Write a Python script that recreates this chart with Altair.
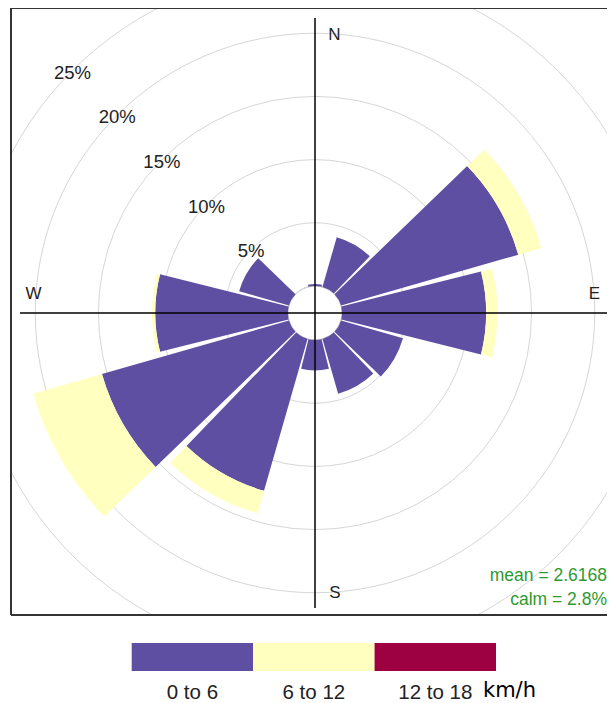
import math
import altair as alt
import pandas as pd

# ---- data ----
directions = [0, 30, 60, 90, 120, 150, 180, 210, 240, 270, 300, 330]
speed_0_6 = [0.15, 4.1, 14.6, 11.4, 5.1, 4.5, 2.4, 12.5, 15.4, 10.5, 4.1, 0.0]
speed_6_12 = [0.0, 0.0, 1.9, 0.9, 0.0, 0.0, 0.0, 1.85, 5.65, 0.25, 0.0, 0.0]
speed_12_18 = [0.0] * 12
bands = ["0 to 6", "6 to 12", "12 to 18"]
band_colors = ["#5e4fa2", "#ffffbf", "#9e0142"]
grid_pcts = [5, 10, 15, 20, 25]
grid_labels = ["5%", "10%", "15%", "20%", "25%"]
units = "km/h"
mean_text = "mean = 2.6168"
calm_text = "calm = 2.8%"

# ---- tables ----
rows = []
for i, d in enumerate(directions):
    cum = 0.0
    for b, vals in zip(bands, [speed_0_6, speed_6_12, speed_12_18]):
        v = vals[i]
        if v > 0:
            rows.append({"dir": d, "band": b, "r0": cum, "r1": cum + v,
                         "t1": d - 14, "t2": d + 14})
            cum += v
bars_df = pd.DataFrame(rows)
grid_df = pd.DataFrame({"pct": grid_pcts, "label": grid_labels})
legend_df = pd.DataFrame({"band": bands})
one = pd.DataFrame({"a": [0]})

# ---- layout constants (view coords) ----
W, H = 596, 607
CX, CY = 304, 305
FONT = "Liberation Sans"

rscale = alt.Scale(type="linear", domain=[0, 25], range=[27.1, 342.9])
tscale = alt.Scale(type="linear", domain=[0, 360], range=[0, 2 * math.pi])
cscale = alt.Scale(domain=bands, range=band_colors)

grid = alt.Chart(grid_df).mark_arc(filled=False, stroke="#d6d6d6", strokeWidth=1, clip=True).encode(
    x=alt.value(CX), y=alt.value(CY),
    theta=alt.value(0), theta2=alt.value(2 * math.pi),
    radius=alt.Radius("pct:Q", scale=rscale, stack=None),
)

bars = alt.Chart(bars_df).mark_arc(clip=True, strokeWidth=0).encode(
    x=alt.value(CX), y=alt.value(CY),
    theta=alt.Theta("t1:Q", scale=tscale, stack=None),
    theta2=alt.Theta2("t2"),
    radius=alt.Radius("r1:Q", scale=rscale, stack=None),
    radius2=alt.Radius2("r0"),
    color=alt.Color("band:N", scale=cscale, legend=None),
)

vline = alt.Chart(one).mark_rule(color="black", strokeWidth=1.5).encode(
    x=alt.value(CX), y=alt.value(10), y2=alt.value(600))
hline = alt.Chart(one).mark_rule(color="black", strokeWidth=1.5).encode(
    y=alt.value(CY), x=alt.value(9), x2=alt.value(597))

pct_labels = alt.Chart(grid_df).mark_text(font=FONT, fontSize=18.5, color="#222",
                                          align="center", baseline="middle", dy=2).encode(
    x=alt.value(CX), y=alt.value(CY),
    theta=alt.value(math.radians(315)),
    radius=alt.Radius("pct:Q", scale=rscale, stack=None),
    text="label:N",
)

def txt(s, x, y, **kw):
    return alt.Chart(one).mark_text(text=s, **kw).encode(x=alt.value(x), y=alt.value(y))

compass = [
    txt("N", 323.5, 27, font=FONT, fontSize=17, color="#222", align="center", baseline="middle"),
    txt("E", 583.5, 286, font=FONT, fontSize=17, color="#222", align="center", baseline="middle"),
    txt("S", 324, 585, font=FONT, fontSize=17, color="#222", align="center", baseline="middle"),
    txt("W", 22.5, 286, font=FONT, fontSize=17, color="#222", align="center", baseline="middle"),
]

stats = [
    txt(mean_text, 596, 573, font=FONT, fontSize=17.5, color="#2f9a2f", align="right", baseline="alphabetic"),
    txt(calm_text, 596, 597, font=FONT, fontSize=17.5, color="#2f9a2f", align="right", baseline="alphabetic"),
]

border = [
    alt.Chart(one).mark_rule(color="#333", strokeWidth=2).encode(x=alt.value(0), y=alt.value(0), y2=alt.value(H)),
    alt.Chart(one).mark_rule(color="#333", strokeWidth=2).encode(y=alt.value(0), x=alt.value(0), x2=alt.value(W)),
    alt.Chart(one).mark_rule(color="#333", strokeWidth=2).encode(y=alt.value(H), x=alt.value(0), x2=alt.value(W)),
]

lx = alt.X("band:N", scale=alt.Scale(domain=bands, range=[120.7, 485], paddingInner=0, paddingOuter=0), axis=None)
legend_rect = alt.Chart(legend_df).mark_rect().encode(
    x=lx, y=alt.value(635), y2=alt.value(663),
    color=alt.Color("band:N", scale=cscale, legend=None),
)
legend_text = alt.Chart(legend_df).mark_text(font=FONT, fontSize=20.5, color="#222",
                                             align="center", baseline="alphabetic").encode(
    x=lx, y=alt.value(691), text="band:N")
unit_text = txt(units, 472, 689, font="DejaVu Sans", fontSize=21, color="black",
                align="left", baseline="alphabetic")

chart = alt.layer(
    grid, bars, vline, hline, pct_labels, *compass, *stats, *border,
    legend_rect, legend_text, unit_text,
).properties(
    width=W, height=H,
    padding={"left": 3, "top": 0, "right": 0, "bottom": 90},
    autosize=alt.AutoSizeParams(type="none"),
).configure_view(strokeWidth=0)

chart.save("out.html", embed_options={"renderer": "svg", "actions": False})
